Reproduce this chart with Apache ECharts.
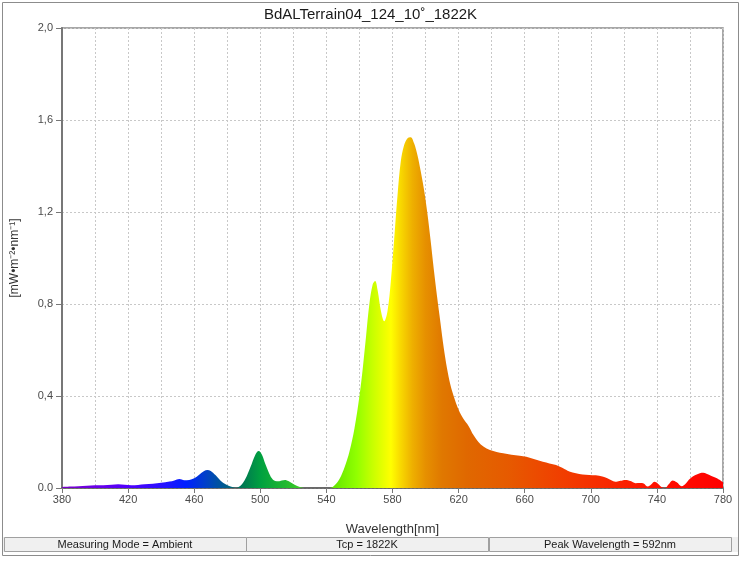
<!DOCTYPE html>
<html>
<head>
<meta charset="utf-8">
<title>BdALTerrain04_124_10˚_1822K</title>
<script src="https://cdn.jsdelivr.net/npm/echarts@6/dist/echarts.min.js"></script>
<style>
  html, body { margin: 0; padding: 0; background: #fff; }
  #chart { width: 741px; height: 564px; }
</style>
</head>
<body>
<div id="chart"></div>
<script>
// spectrum samples (nm / mW·m⁻²·nm⁻¹)
const wavelengths = [
  380, 385, 390, 395, 400, 405, 410, 414, 418, 422, 426, 430, 435, 440, 445, 448, 451, 454, 457, 460,
  463, 466, 468, 470, 473, 476, 479, 482, 485, 488, 491, 494, 497, 499, 501, 503, 505, 507, 509, 511,
  513, 515, 517, 519, 522, 525, 528, 535, 542, 545, 548, 551, 554, 557, 560, 562, 564, 566, 568, 569.5,
  571, 573, 575, 577, 579, 581, 583, 585, 587, 589, 591, 593, 595, 597, 599, 601, 603, 605, 607, 609,
  611, 613, 615, 617, 620, 623, 626, 629, 632, 635, 639, 643, 647, 652, 657, 661, 666, 671, 675, 679,
  683, 687, 691, 695, 699, 703, 707, 710, 713, 715.5, 718, 721, 724, 727, 730, 732, 734.5, 736.5, 738.5, 740.5,
  743, 745, 747, 749.5, 752, 755, 757.5, 760, 763, 766, 768, 770, 773, 776, 780
]
const irradiance = [
  0.004, 0.006, 0.008, 0.010, 0.012, 0.012, 0.014, 0.016, 0.014, 0.012, 0.013, 0.016, 0.019, 0.023, 0.028, 0.033, 0.039, 0.034, 0.035, 0.042,
  0.058, 0.074, 0.078, 0.074, 0.055, 0.032, 0.016, 0.006, 0.001, 0.010, 0.040, 0.090, 0.145, 0.161, 0.145, 0.105, 0.070, 0.042, 0.030, 0.029,
  0.033, 0.035, 0.030, 0.022, 0.010, 0.002, 0, 0, 0, 0.012, 0.040, 0.090, 0.160, 0.260, 0.400, 0.520, 0.660, 0.800, 0.885, 0.900,
  0.860, 0.770, 0.725, 0.770, 0.900, 1.080, 1.270, 1.420, 1.490, 1.520, 1.525, 1.500, 1.450, 1.380, 1.300, 1.200, 1.080, 0.950, 0.830, 0.720,
  0.610, 0.520, 0.450, 0.400, 0.340, 0.300, 0.270, 0.230, 0.200, 0.180, 0.165, 0.157, 0.151, 0.145, 0.140, 0.136, 0.125, 0.114, 0.107, 0.100,
  0.087, 0.072, 0.064, 0.059, 0.057, 0.055, 0.050, 0.042, 0.032, 0.027, 0.031, 0.035, 0.030, 0.021, 0.022, 0.020, 0.006, 0.015, 0.027, 0.020,
  0.003, 0.000, 0.015, 0.033, 0.025, 0.008, 0.020, 0.040, 0.055, 0.064, 0.066, 0.062, 0.052, 0.043, 0.025
]

const xMin = 380
const xMax = 780
const xStep = 40
const yMax = 2.0
const yStep = 0.4

const chartTitle = 'BdALTerrain04_124_10˚_1822K'
const yAxisName = '[mW•m⁻²•nm⁻¹]'
const xAxisName = 'Wavelength[nm]'
const statusTexts = ['Measuring Mode = Ambient', 'Tcp = 1822K', 'Peak Wavelength = 592nm']

const FONT = 'Liberation Sans, Arial, sans-serif'

/**
 * 光谱色带：按波长给出渐变色标（offset 由波长换算）
 */
function spectrumGradient() {
  const stops = [
    [380, '#7a00c8'], [400, '#6a00e8'], [420, '#5000ff'], [440, '#2a10ff'], [455, '#0020ff'],
    [467, '#0040c8'], [478, '#005a90'], [490, '#007a50'], [500, '#00a040'], [515, '#20b830'],
    [530, '#50d820'], [545, '#66e800'], [558, '#90ff00'], [568, '#c8ff00'], [579, '#ffff00'],
    [585, '#f8d800'], [592, '#eeb000'], [600, '#e69000'], [610, '#e07800'], [625, '#e06800'],
    [650, '#e65a00'], [680, '#f04000'], [710, '#f82800'], [740, '#ff1000'], [780, '#ff0000']
  ]
  return new echarts.graphic.LinearGradient(0, 0, 1, 0,
    stops.map(([nm, color]) => ({ offset: (nm - xMin) / (xMax - xMin), color })))
}

/**
 * 底部状态栏（三格）+ 外框
 */
function statusBar() {
  const boxes = [[4, 242], [246, 242], [489, 242]]
  const items = [{
    type: 'rect', silent: true, z: -1,
    shape: { x: 2.5, y: 2.5, width: 736, height: 553 },
    style: { fill: 'none', stroke: '#8c8c8c', lineWidth: 1 }
  }, {
    type: 'rect', silent: true,
    shape: { x: 3, y: 537, width: 735, height: 15 },
    style: { fill: '#f0f0f0', stroke: null }
  }]
  boxes.forEach(([x, w], i) => {
    items.push({
      type: 'rect', silent: true,
      shape: { x: x + 0.5, y: 537.5, width: w, height: 14 },
      style: { fill: '#f0f0f0', stroke: '#a0a0a0', lineWidth: 1 }
    })
    items.push({
      type: 'text', silent: true,
      x: x + w / 2, y: 545,
      style: {
        text: statusTexts[i], fill: '#1a1a1a', font: '11px ' + FONT,
        align: 'center', verticalAlign: 'middle'
      }
    })
  })
  return items
}

const chart = echarts.init(document.getElementById('chart'), null, { renderer: 'canvas' })
const gridLine = { type: [2, 2], color: '#c8c8c8', width: 1 }

chart.setOption({
  animation: false,
  backgroundColor: '#fff',
  title: {
    text: chartTitle, left: 'center', top: 2,
    textStyle: { fontFamily: FONT, fontSize: 15, fontWeight: 'normal', color: '#1a1a1a' }
  },
  grid: {
    left: 62, right: 18, top: 28, bottom: 76,
    show: true, borderColor: '#8a8a8a', borderWidth: 1.5, backgroundColor: '#fff'
  },
  xAxis: {
    type: 'value', min: xMin, max: xMax, interval: xStep,
    name: xAxisName, nameLocation: 'middle', nameGap: 35,
    nameTextStyle: { fontFamily: FONT, fontSize: 13, color: '#333' },
    axisLine: { lineStyle: { color: '#555', width: 1.5 } },
    axisTick: { show: true, length: 5, lineStyle: { color: '#777' } },
    axisLabel: { fontFamily: FONT, fontSize: 11, color: '#4a4a4a', margin: 6 },
    splitLine: { show: true, lineStyle: gridLine },
    minorTick: { show: false, splitNumber: 2 },
    minorSplitLine: { show: true, lineStyle: gridLine }
  },
  yAxis: {
    type: 'value', min: 0, max: yMax, interval: yStep,
    name: yAxisName, nameLocation: 'middle', nameGap: 41,
    nameTextStyle: { fontFamily: FONT, fontSize: 12, color: '#333' },
    axisLine: { show: true, lineStyle: { color: '#777', width: 2 } },
    axisTick: { show: true, length: 6, lineStyle: { color: '#777' } },
    axisLabel: {
      fontFamily: FONT, fontSize: 11, color: '#4a4a4a', margin: 9,
      // 原图 0 用小数点，其余用逗号
      formatter: v => (v === 0 ? '0.0' : v.toFixed(1).replace('.', ','))
    },
    splitLine: { show: true, lineStyle: gridLine }
  },
  series: [{
    type: 'line',
    data: wavelengths.map((nm, i) => [nm, irradiance[i]]),
    smooth: 0.35,
    showSymbol: false,
    lineStyle: { width: 0 },
    areaStyle: { color: spectrumGradient(), opacity: 1 },
    z: 3
  }],
  graphic: statusBar()
})
</script>
</body>
</html>
